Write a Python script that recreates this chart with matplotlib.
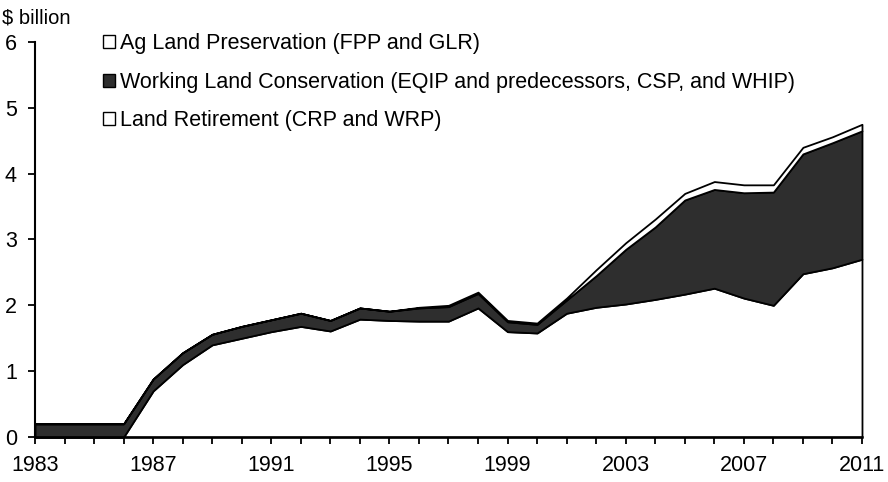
import numpy as np
import matplotlib
matplotlib.use("Agg")
import matplotlib.pyplot as plt
from matplotlib.patches import Patch

plt.rcParams['font.family'] = ['Liberation Sans', 'DejaVu Sans']

years = list(range(1983, 2012))

# Land Retirement (CRP and WRP), $ billion
land_retirement = [0, 0, 0, 0, 0.7, 1.1, 1.4, 1.5, 1.6, 1.68,
                   1.61, 1.79, 1.77, 1.76, 1.76, 1.96, 1.6, 1.58, 1.88, 1.97,
                   2.02, 2.09, 2.17, 2.26, 2.11, 2.0, 2.48, 2.57, 2.7]
# Working Land Conservation (EQIP and predecessors, CSP, and WHIP)
working_land = [0.2, 0.2, 0.2, 0.2, 0.18, 0.18, 0.16, 0.18, 0.18, 0.2,
                0.16, 0.17, 0.14, 0.2, 0.22, 0.22, 0.15, 0.13, 0.2, 0.48,
                0.83, 1.1, 1.43, 1.5, 1.6, 1.72, 1.82, 1.9, 1.95]
# Ag Land Preservation (FPP and GLR)
ag_preservation = [0, 0, 0, 0, 0, 0, 0, 0, 0, 0,
                   0, 0, 0, 0.01, 0.02, 0.02, 0.02, 0.02, 0.03, 0.09,
                   0.1, 0.12, 0.1, 0.12, 0.12, 0.11, 0.1, 0.09, 0.1]

labels = ["Land Retirement (CRP and WRP)",
          "Working Land Conservation (EQIP and predecessors, CSP, and WHIP)",
          "Ag Land Preservation (FPP and GLR)"]
dark = '#2e2e2e'

fig = plt.figure(figsize=(8.88, 4.82), dpi=100)
ax = fig.add_axes([0.0394, 0.0934, 0.9313, 0.8195])

polys = ax.stackplot(years, land_retirement, working_land, ag_preservation,
                     colors=['white', dark, 'white'],
                     edgecolor='black', linewidth=1.3)
for p in polys:
    p.set_clip_on(False)

ax.set_xlim(1983, 2011)
ax.set_ylim(0, 6)
ax.set_yticks(range(0, 7))
ax.set_xticks(years)
ax.set_xticklabels([str(y) if (y - 1983) % 4 == 0 else '' for y in years])

for s in ['top', 'right']:
    ax.spines[s].set_visible(False)
ax.spines['left'].set_linewidth(1.5)
ax.spines['bottom'].set_linewidth(1.8)
ax.tick_params(axis='both', direction='out', length=5, width=1.3,
               labelsize=15.5, colors='black')
ax.tick_params(axis='y', pad=8)
ax.tick_params(axis='x', pad=8)

fig.text(0.002, 0.962, "$ billion", fontsize=14.5, ha='left', va='center')

handles = [Patch(facecolor='white', edgecolor='black', linewidth=1.0),
           Patch(facecolor=dark, edgecolor='black', linewidth=1.0),
           Patch(facecolor='white', edgecolor='black', linewidth=1.0)]
leg = ax.legend(handles, [labels[2], labels[1], labels[0]],
                loc='upper left', bbox_to_anchor=(0.082, 1.022),
                frameon=False, fontsize=15.5, handlelength=0.55,
                handleheight=0.55, handletextpad=0.25, labelspacing=0.81,
                borderaxespad=0, borderpad=0)

fig.savefig("out.png", dpi=100, facecolor='white')
